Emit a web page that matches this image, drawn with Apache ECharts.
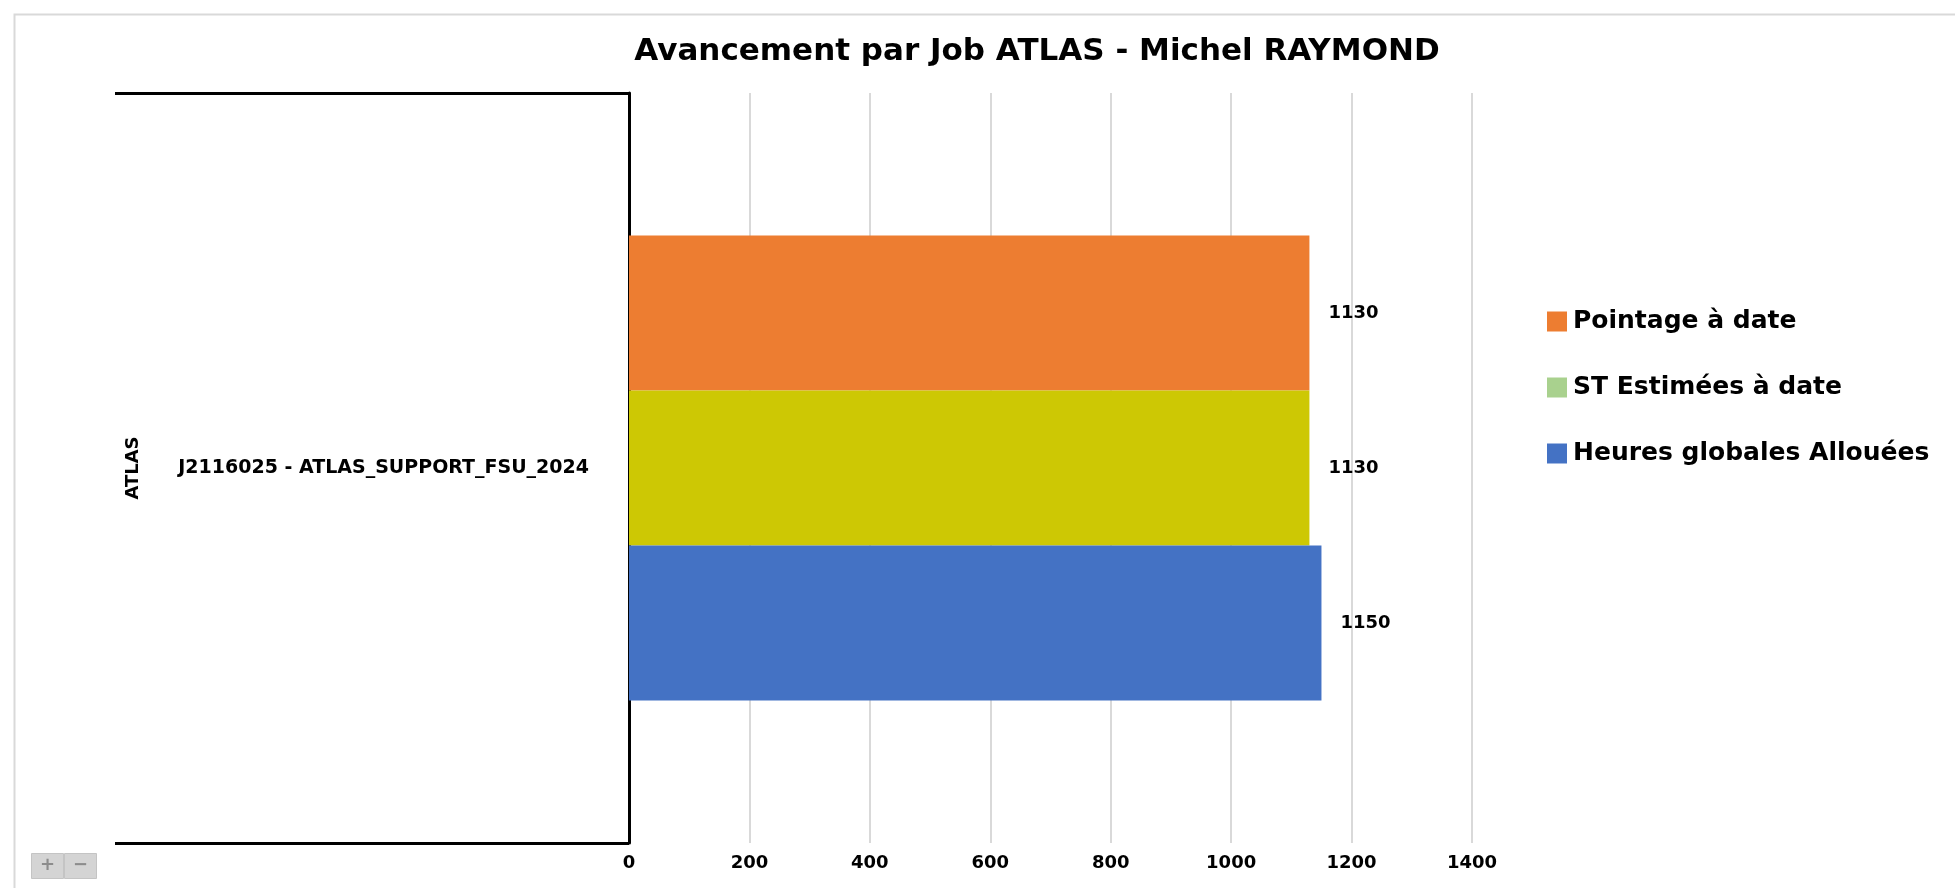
<!DOCTYPE html>
<html>
<head>
<meta charset="utf-8">
<title>Avancement par Job ATLAS</title>
<script src="https://cdn.jsdelivr.net/npm/echarts@6/dist/echarts.min.js"></script>
<style>
  html, body { margin: 0; padding: 0; background: #fff; }
  #chart { width: 1955px; height: 888px; }
</style>
</head>
<body>
<div id="chart"></div>
<script>
// data
var groups = ['ATLAS']
var categories = ['J2116025 - ATLAS_SUPPORT_FSU_2024']
var seriesNames = ['Pointage à date', 'ST Estimées à date', 'Heures globales Allouées']
var pointage = [1130]
var stEstimees = [1130]
var heuresAllouees = [1150]

var FONT = 'DejaVu Sans'
var chart = echarts.init(document.getElementById('chart'))

var barLabel = {
  show: true,
  position: 'right',
  distance: 19,
  color: '#000',
  fontFamily: FONT,
  fontWeight: 'bold',
  fontSize: 18
}

chart.setOption({
  animation: false,
  title: {
    text: 'Avancement par Job ATLAS - Michel RAYMOND',
    left: 1032,
    textAlign: 'center',
    top: 31,
    textStyle: {
      color: '#000',
      fontFamily: FONT,
      fontWeight: 'bold',
      fontSize: 31
    }
  },
  legend: {
    orient: 'vertical',
    left: 1542,
    top: 304,
    itemWidth: 20,
    itemHeight: 20,
    itemGap: 41,
    icon: 'rect',
    textStyle: { color: '#000', fontFamily: FONT, fontWeight: 'bold', fontSize: 25, padding: [0, 0, 0, 1] },
    data: [
      { name: seriesNames[0] },
      { name: seriesNames[1], itemStyle: { color: '#a9d18e' } }, // legend swatch differs from bar in the original
      { name: seriesNames[2] }
    ]
  },
  grid: {
    left: 629,
    right: 483,
    top: 93,
    bottom: 45
  },
  xAxis: {
    type: 'value',
    min: 0,
    max: 1400,
    interval: 200,
    axisLine: { show: false },
    axisTick: { show: false },
    splitLine: { lineStyle: { color: '#d9d9d9', width: 2 } },
    axisLabel: {
      color: '#000',
      fontFamily: FONT,
      fontWeight: 'bold',
      fontSize: 18,
      margin: 11,
      formatter: function (v) { return String(v) }
    }
  },
  yAxis: {
    type: 'category',
    data: categories,
    name: groups[0],
    nameLocation: 'middle',
    nameRotate: 90,
    nameGap: 487,
    nameTextStyle: { color: '#000', fontFamily: FONT, fontWeight: 'bold', fontSize: 18 },
    axisLine: { lineStyle: { color: '#000', width: 3 } },
    axisTick: { show: true, length: 514, lineStyle: { color: '#000', width: 3 } },
    axisLabel: {
      color: '#000',
      fontFamily: FONT,
      fontWeight: 'bold',
      fontSize: 19,
      margin: 40
    }
  },
  series: [
    {
      name: seriesNames[0],
      type: 'bar',
      data: pointage,
      itemStyle: { color: '#ed7d31' },
      barGap: 0,
      barCategoryGap: '38%',
      label: barLabel
    },
    {
      name: seriesNames[1],
      type: 'bar',
      data: stEstimees,
      itemStyle: { color: '#cdc804' },
      label: barLabel
    },
    {
      name: seriesNames[2],
      type: 'bar',
      data: heuresAllouees,
      itemStyle: { color: '#4472c4' },
      label: barLabel
    }
  ],
  graphic: [
    // outer frame of the embedded chart
    {
      type: 'rect',
      left: 12,
      top: 12,
      shape: { width: 2000, height: 900 },
      style: { fill: 'none', stroke: '#d9d9d9', lineWidth: 2 },
      silent: true
    },
    // zoom buttons bottom left
    {
      type: 'group',
      left: 31,
      top: 853,
      children: [
        { type: 'rect', shape: { x: 0, y: 0, width: 32, height: 25 }, style: { fill: '#d4d4d4', stroke: '#c4c4c4' } },
        { type: 'text', style: { x: 16, y: 12, text: '+', align: 'center', verticalAlign: 'middle', fill: '#8c8c8c', font: 'bold 18px ' + FONT } },
        { type: 'rect', shape: { x: 33, y: 0, width: 32, height: 25 }, style: { fill: '#d4d4d4', stroke: '#c4c4c4' } },
        { type: 'text', style: { x: 49, y: 12, text: '−', align: 'center', verticalAlign: 'middle', fill: '#8c8c8c', font: 'bold 18px ' + FONT } }
      ]
    }
  ]
})
</script>
</body>
</html>
